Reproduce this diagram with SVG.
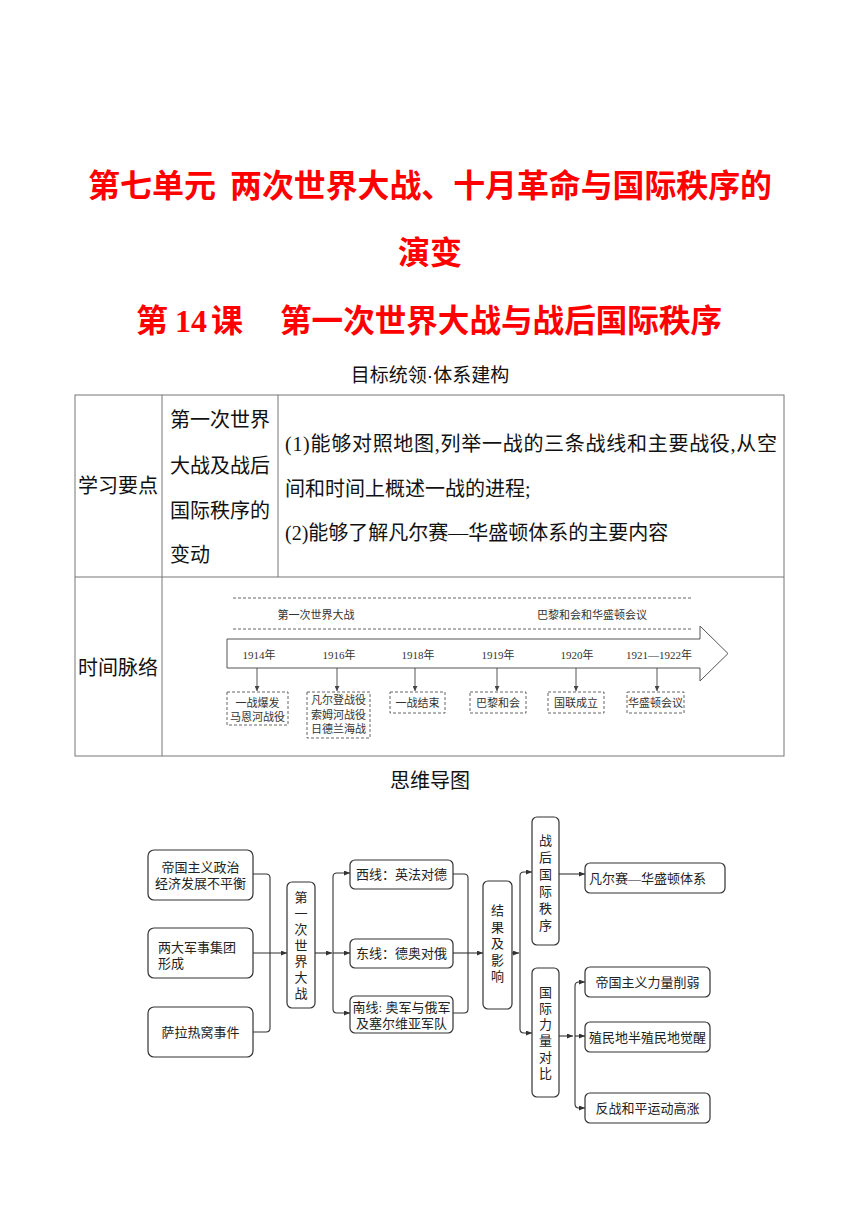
<svg xmlns="http://www.w3.org/2000/svg" width="860" height="1216" viewBox="0 0 860 1216">
<defs>
<style>
.title{font-family:"Liberation Serif","Noto Sans CJK SC",sans-serif;font-weight:700;font-size:32px;fill:#ff0000}
.sec{font-family:"Liberation Sans","Noto Sans CJK SC",sans-serif;fill:#111}
.tb{font-family:"Liberation Serif","Noto Sans CJK SC",sans-serif;font-size:20px;fill:#111}
.tl{font-family:"Liberation Serif","Noto Sans CJK SC",serif;font-size:11px;fill:#333}
.mm{font-family:"Liberation Serif","Noto Sans CJK SC",serif;font-size:13px;fill:#222}
.grid{stroke:#777;stroke-width:1;fill:none}
.dash{stroke:#555;stroke-width:0.9;stroke-dasharray:3 2;fill:none}
.dbox{stroke:#555;stroke-width:0.9;stroke-dasharray:3 2;fill:#fff}
.tick{stroke:#444;stroke-width:0.9;fill:none}
.box{stroke:#333;stroke-width:1.2;fill:#fff}
.con{stroke:#333;stroke-width:1.1;fill:none}
</style>
<marker id="arr" markerUnits="userSpaceOnUse" markerWidth="6" markerHeight="5" refX="6" refY="2.5" orient="auto">
<path d="M0,0 L6,2.5 L0,5 z" fill="#333"/>
</marker>
<marker id="tarr" markerUnits="userSpaceOnUse" markerWidth="5" markerHeight="5" refX="2.5" refY="5" orient="0">
<path d="M0,0 L2.5,5 L5,0 z" fill="#444"/>
</marker>
</defs>
<rect width="860" height="1216" fill="#fff"/>

<g id="titles">
<text class="title" x="88" y="197">第七单元</text>
<text class="title" x="230" y="197" textLength="542" lengthAdjust="spacingAndGlyphs">两次世界大战、十月革命与国际秩序的</text>
<text class="title" x="430" y="264" text-anchor="middle">演变</text>
<text class="title" x="136" y="332">第</text>
<text class="title" x="175" y="332">14</text>
<text class="title" x="211" y="332">课</text>
<text class="title" x="280" y="332" textLength="442" lengthAdjust="spacingAndGlyphs">第一次世界大战与战后国际秩序</text>
<text class="sec" x="430" y="382" font-size="19" text-anchor="middle">目标统领·体系建构</text>
<text class="sec" x="430" y="788" font-size="20" text-anchor="middle">思维导图</text>
</g>

<g id="table">
<rect class="grid" x="75" y="395" width="709" height="361"/>
<line class="grid" x1="75" y1="577" x2="784" y2="577"/>
<line class="grid" x1="162" y1="395" x2="162" y2="756"/>
<line class="grid" x1="278" y1="395" x2="278" y2="577"/>
<text class="tb" x="78" y="493">学习要点</text>
<text class="tb" x="170" y="427">第一次世界</text>
<text class="tb" x="170" y="473">大战及战后</text>
<text class="tb" x="170" y="518">国际秩序的</text>
<text class="tb" x="170" y="562">变动</text>
<text class="tb" x="285" y="451" textLength="492" lengthAdjust="spacing">(1)能够对照地图,列举一战的三条战线和主要战役,从空</text>
<text class="tb" x="285" y="496">间和时间上概述一战的进程;</text>
<text class="tb" x="285" y="540">(2)能够了解凡尔赛—华盛顿体系的主要内容</text>
<text class="tb" x="78" y="675">时间脉络</text>
</g>

<g id="timeline">
<line class="dash" x1="233" y1="598" x2="693" y2="598"/>
<line class="dash" x1="233" y1="629" x2="693" y2="629"/>
<text class="tl" x="316" y="619" text-anchor="middle">第一次世界大战</text>
<text class="tl" x="592" y="619" text-anchor="middle">巴黎和会和华盛顿会议</text>
<polygon points="227,639 700,639 700,626 728,653.5 700,681 700,668 227,668" fill="#fff" stroke="#555" stroke-width="1"/>
<text class="tl" x="259" y="659" text-anchor="middle">1914年</text>
<text class="tl" x="339" y="659" text-anchor="middle">1916年</text>
<text class="tl" x="418" y="659" text-anchor="middle">1918年</text>
<text class="tl" x="498" y="659" text-anchor="middle">1919年</text>
<text class="tl" x="577" y="659" text-anchor="middle">1920年</text>
<text class="tl" x="659" y="659" text-anchor="middle">1921—1922年</text>
<line class="tick" x1="257" y1="668" x2="257" y2="691" marker-end="url(#tarr)"/>
<line class="tick" x1="337" y1="668" x2="337" y2="691" marker-end="url(#tarr)"/>
<line class="tick" x1="415" y1="668" x2="415" y2="691" marker-end="url(#tarr)"/>
<line class="tick" x1="497" y1="668" x2="497" y2="691" marker-end="url(#tarr)"/>
<line class="tick" x1="576" y1="668" x2="576" y2="691" marker-end="url(#tarr)"/>
<line class="tick" x1="657" y1="668" x2="657" y2="691" marker-end="url(#tarr)"/>
</g>
<g id="t1914"><rect class="dbox" x="227" y="692" width="61" height="33"/><text class="tl" x="257.5" y="707" text-anchor="middle">一战爆发</text><text class="tl" x="257.5" y="721" text-anchor="middle">马恩河战役</text></g>
<g id="t1916"><rect class="dbox" x="307" y="692" width="63" height="46"/><text class="tl" x="338.5" y="704" text-anchor="middle">凡尔登战役</text><text class="tl" x="338.5" y="719" text-anchor="middle">索姆河战役</text><text class="tl" x="338.5" y="733" text-anchor="middle">日德兰海战</text></g>
<g id="t1918"><rect class="dbox" x="390" y="692" width="55" height="21"/><text class="tl" x="417.5" y="706.5" text-anchor="middle">一战结束</text></g>
<g id="t1919"><rect class="dbox" x="470" y="692" width="56" height="21"/><text class="tl" x="498" y="706.5" text-anchor="middle">巴黎和会</text></g>
<g id="t1920"><rect class="dbox" x="548" y="692" width="56" height="21"/><text class="tl" x="576" y="706.5" text-anchor="middle">国联成立</text></g>
<g id="t1921"><rect class="dbox" x="627" y="692" width="57" height="21"/><text class="tl" x="655.5" y="706.5" text-anchor="middle">华盛顿会议</text></g>

<g id="connectors">
<path class="con" d="M253,874 H266 Q270,874 270,878 V953"/>
<path class="con" d="M253,1032 H266 Q270,1032 270,1028 V953"/>
<path class="con" d="M253,953 H287" marker-end="url(#arr)"/>
<path class="con" d="M315,953 H332" marker-end="url(#arr)"/>
<path class="con" d="M333,953 V877 Q333,873 337,873 H350" marker-end="url(#arr)"/>
<path class="con" d="M333,953 H350" marker-end="url(#arr)"/>
<path class="con" d="M333,953 V1009 Q333,1013 337,1013 H350" marker-end="url(#arr)"/>
<path class="con" d="M453,874 H464 Q468,874 468,878 V953"/>
<path class="con" d="M453,1013 H464 Q468,1013 468,1009 V953"/>
<path class="con" d="M453,953 H483" marker-end="url(#arr)"/>
<path class="con" d="M512,953 H519" marker-end="url(#arr)"/>
<path class="con" d="M520,953 V876 Q520,872 524,872 H532" marker-end="url(#arr)"/>
<path class="con" d="M520,953 V1029 Q520,1033 524,1033 H532" marker-end="url(#arr)"/>
<path class="con" d="M559,874 H585" marker-end="url(#arr)"/>
<path class="con" d="M559,1036 H573" marker-end="url(#arr)"/>
<path class="con" d="M575,1036 V986 Q575,982 579,982 H585" marker-end="url(#arr)"/>
<path class="con" d="M575,1036 H585" marker-end="url(#arr)"/>
<path class="con" d="M575,1036 V1104 Q575,1108 579,1108 H585" marker-end="url(#arr)"/>
</g>

<g id="cause1"><rect class="box" x="148" y="850" width="105" height="50" rx="6"/><text class="mm" x="200.5" y="872" text-anchor="middle">帝国主义政治</text><text class="mm" x="200.5" y="888" text-anchor="middle">经济发展不平衡</text></g>
<g id="cause2"><rect class="box" x="148" y="928" width="105" height="50" rx="6"/><text class="mm" x="158" y="952">两大军事集团</text><text class="mm" x="158" y="968">形成</text></g>
<g id="cause3"><rect class="box" x="148" y="1007" width="105" height="50" rx="6"/><text class="mm" x="200.5" y="1037" text-anchor="middle">萨拉热窝事件</text></g>

<g id="ww1"><rect class="box" x="287" y="882" width="28" height="126" rx="5"/>
<text class="mm" text-anchor="middle"><tspan x="301" y="902">第</tspan><tspan x="301" y="918">一</tspan><tspan x="301" y="934">次</tspan><tspan x="301" y="950">世</tspan><tspan x="301" y="966">界</tspan><tspan x="301" y="982">大</tspan><tspan x="301" y="998">战</tspan></text></g>

<g id="west"><rect class="box" x="350" y="860" width="103" height="29" rx="5"/><text class="mm" x="401.5" y="879" text-anchor="middle">西线：英法对德</text></g>
<g id="east"><rect class="box" x="350" y="939" width="103" height="29" rx="5"/><text class="mm" x="401.5" y="958" text-anchor="middle">东线：德奥对俄</text></g>
<g id="south"><rect class="box" x="350" y="996" width="103" height="37" rx="5"/><text class="mm" x="401.5" y="1012" text-anchor="middle">南线: 奥军与俄军</text><text class="mm" x="401.5" y="1028" text-anchor="middle">及塞尔维亚军队</text></g>

<g id="result"><rect class="box" x="483" y="881" width="29" height="128" rx="5"/>
<text class="mm" text-anchor="middle"><tspan x="497.5" y="915">结</tspan><tspan x="497.5" y="932">果</tspan><tspan x="497.5" y="948">及</tspan><tspan x="497.5" y="965">影</tspan><tspan x="497.5" y="981">响</tspan></text></g>

<g id="order"><rect class="box" x="532" y="817" width="27" height="128" rx="5"/>
<text class="mm" text-anchor="middle"><tspan x="545.5" y="845">战</tspan><tspan x="545.5" y="862">后</tspan><tspan x="545.5" y="879">国</tspan><tspan x="545.5" y="896">际</tspan><tspan x="545.5" y="913">秩</tspan><tspan x="545.5" y="930">序</tspan></text></g>

<g id="power"><rect class="box" x="532" y="968" width="27" height="129" rx="5"/>
<text class="mm" text-anchor="middle"><tspan x="545.5" y="997">国</tspan><tspan x="545.5" y="1013">际</tspan><tspan x="545.5" y="1029">力</tspan><tspan x="545.5" y="1045">量</tspan><tspan x="545.5" y="1062">对</tspan><tspan x="545.5" y="1078">比</tspan></text></g>

<g id="versailles"><rect class="box" x="585" y="863" width="140" height="30" rx="5"/><text class="mm" x="589" y="883">凡尔赛—华盛顿体系</text></g>
<g id="weaken"><rect class="box" x="585" y="967" width="125" height="30" rx="5"/><text class="mm" x="647.5" y="987" text-anchor="middle">帝国主义力量削弱</text></g>
<g id="awaken"><rect class="box" x="585" y="1022" width="125" height="30" rx="5"/><text class="mm" x="647.5" y="1042" text-anchor="middle">殖民地半殖民地觉醒</text></g>
<g id="peace"><rect class="box" x="585" y="1093" width="125" height="30" rx="5"/><text class="mm" x="647.5" y="1113" text-anchor="middle">反战和平运动高涨</text></g>
</svg>
